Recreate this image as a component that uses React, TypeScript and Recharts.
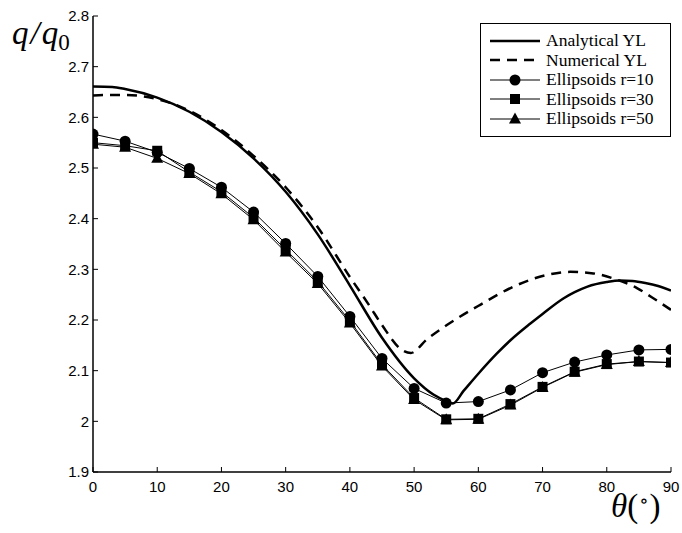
import React from 'react';
import { LineChart, Line, XAxis, YAxis, Legend } from 'recharts';

// ---------- data ----------
const ANALYTICAL_THETA = [0, 3, 5, 10, 15, 20, 25, 30, 35, 40, 45, 50, 53, 55, 56, 57.7, 60, 62.9, 65, 68.1, 70, 73.3, 75, 77, 80, 82, 84, 86, 88, 90];
const ANALYTICAL_Q = [2.661, 2.66, 2.656, 2.639, 2.611, 2.571, 2.519, 2.453, 2.369, 2.268, 2.165, 2.085, 2.053, 2.04, 2.035, 2.06, 2.094, 2.134, 2.16, 2.193, 2.212, 2.243, 2.255, 2.266, 2.275, 2.278, 2.277, 2.273, 2.267, 2.258];

const NUMERICAL_THETA = [0, 2, 5, 10, 15, 20, 25, 30, 35, 40, 43, 45, 48, 49.5, 52, 55.1, 60.3, 65.5, 70.7, 74.3, 77.9, 81, 84.7, 87, 90];
const NUMERICAL_Q = [2.643, 2.644, 2.644, 2.636, 2.613, 2.575, 2.524, 2.462, 2.383, 2.285, 2.229, 2.19, 2.142, 2.135, 2.162, 2.19, 2.23, 2.266, 2.289, 2.295, 2.292, 2.282, 2.263, 2.245, 2.22];

const MARKER_THETA = [0, 5, 10, 15, 20, 25, 30, 35, 40, 45, 50, 55, 60, 65, 70, 75, 80, 85, 90];
const R10_Q = [2.567, 2.553, 2.531, 2.499, 2.462, 2.413, 2.351, 2.286, 2.207, 2.124, 2.065, 2.036, 2.039, 2.062, 2.096, 2.117, 2.131, 2.141, 2.142];
const R30_Q = [2.55, 2.544, 2.534, 2.492, 2.453, 2.402, 2.339, 2.276, 2.198, 2.112, 2.046, 2.004, 2.005, 2.034, 2.068, 2.098, 2.113, 2.118, 2.116];
const R50_Q = [2.547, 2.541, 2.519, 2.489, 2.449, 2.398, 2.334, 2.272, 2.194, 2.109, 2.043, 2.003, 2.004, 2.032, 2.067, 2.097, 2.112, 2.118, 2.116];

const X_TICKS = [0, 10, 20, 30, 40, 50, 60, 70, 80, 90];
const Y_TICKS = [1.9, 2, 2.1, 2.2, 2.3, 2.4, 2.5, 2.6, 2.7, 2.8];

const SERIES_NAMES = ['Analytical YL', 'Numerical YL', 'Ellipsoids r=10', 'Ellipsoids r=30', 'Ellipsoids r=50'];

const zip = (xs: number[], ys: number[]) => xs.map((x, i) => ({ x, q: ys[i] }));
const analytical = zip(ANALYTICAL_THETA, ANALYTICAL_Q);
const numerical = zip(NUMERICAL_THETA, NUMERICAL_Q);
const r10 = zip(MARKER_THETA, R10_Q);
const r30 = zip(MARKER_THETA, R30_Q);
const r50 = zip(MARKER_THETA, R50_Q);

const TICK_FONT = "'Liberation Sans Narrow', 'Liberation Sans', Arial, sans-serif";
const SERIF = "'Liberation Serif', 'DejaVu Serif', serif";

const SquareDot = (props: any) => {
  const { cx, cy, index } = props;
  if (cx == null || cy == null) return <g key={`s-${index}`} />;
  return <rect key={`s-${index}`} x={cx - 5} y={cy - 5} width={10} height={10} fill="#000" />;
};

const TriangleDot = (props: any) => {
  const { cx, cy, index } = props;
  if (cx == null || cy == null) return <g key={`t-${index}`} />;
  return <polygon key={`t-${index}`} points={`${cx},${cy - 6.5} ${cx + 6},${cy + 4.5} ${cx - 6},${cy + 4.5}`} fill="#000" />;
};

const LegendIcon = ({ i }: { i: number }) => {
  const w = 50;
  const h = 20;
  const c = h / 2;
  if (i === 0) return <svg width={w} height={h}><line x1={0} y1={c} x2={w} y2={c} stroke="#000" strokeWidth={2.5} /></svg>;
  if (i === 1) return <svg width={w} height={h}><line x1={0} y1={c} x2={w} y2={c} stroke="#000" strokeWidth={2.5} strokeDasharray="10 7" /></svg>;
  return (
    <svg width={w} height={h}>
      <line x1={0} y1={c} x2={w} y2={c} stroke="#000" strokeWidth={1} />
      {i === 2 && <circle cx={w / 2} cy={c} r={5.5} fill="#000" />}
      {i === 3 && <rect x={w / 2 - 5} y={c - 5} width={10} height={10} fill="#000" />}
      {i === 4 && <polygon points={`${w / 2},${c - 6.5} ${w / 2 + 6},${c + 4.5} ${w / 2 - 6},${c + 4.5}`} fill="#000" />}
    </svg>
  );
};

const LegendContent = () => (
  <div style={{ border: '1px solid #000', background: '#fff', padding: '7px 4px 7px 9px', boxSizing: 'border-box', width: 191 }}>
    {SERIES_NAMES.map((name, i) => (
      <div key={name} style={{ display: 'flex', alignItems: 'center', height: 19.5 }}>
        <LegendIcon i={i} />
        <span style={{ marginLeft: 6, fontFamily: SERIF, fontSize: 17.5, color: '#000', lineHeight: '19px', whiteSpace: 'nowrap' }}>{name}</span>
      </div>
    ))}
  </div>
);

const fmtY = (v: number) => String(Math.round(v * 10) / 10);

export default function App() {
  return (
    <div style={{ position: 'absolute', left: 0, top: 0, width: 682, height: 533, background: '#fff' }}>
      <LineChart width={682} height={533} margin={{ top: 16, right: 11, bottom: 0, left: 0 }}>
        <XAxis
          xAxisId="b"
          type="number"
          dataKey="x"
          domain={[0, 90]}
          ticks={X_TICKS}
          allowDataOverflow
          height={61}
          tickSize={-5}
          tickMargin={14}
          tick={{ fontFamily: TICK_FONT, fontSize: 15, fill: '#000' }}
          axisLine={{ stroke: '#000', strokeWidth: 1.5 }}
          tickLine={{ stroke: '#000' }}
        />
        <XAxis
          xAxisId="t"
          orientation="top"
          type="number"
          dataKey="x"
          domain={[0, 90]}
          ticks={X_TICKS}
          allowDataOverflow
          height={0}
          tickSize={-5}
          tickFormatter={() => ''}
          axisLine={{ stroke: '#000', strokeWidth: 1.5 }}
          tickLine={{ stroke: '#000' }}
        />
        <YAxis
          yAxisId="l"
          type="number"
          domain={[1.9, 2.8]}
          ticks={Y_TICKS}
          allowDataOverflow
          width={93}
          tickSize={-5}
          tickMargin={9}
          tickFormatter={fmtY}
          tick={{ fontFamily: TICK_FONT, fontSize: 15, fill: '#000' }}
          axisLine={{ stroke: '#000', strokeWidth: 1.5 }}
          tickLine={{ stroke: '#000' }}
        />
        <YAxis
          yAxisId="r"
          orientation="right"
          type="number"
          domain={[1.9, 2.8]}
          ticks={Y_TICKS}
          allowDataOverflow
          width={0}
          tickSize={-5}
          tickFormatter={() => ''}
          axisLine={{ stroke: '#000', strokeWidth: 1.5 }}
          tickLine={{ stroke: '#000' }}
        />
        <Legend
          layout="vertical"
          align="center"
          verticalAlign="middle"
          content={LegendContent}
          wrapperStyle={{ left: 480, top: 23, width: 191, height: 'auto' }}
        />
        <Line xAxisId="b" yAxisId="l" data={r10} dataKey="q" name={SERIES_NAMES[2]} type="linear" stroke="#000" strokeWidth={1} dot={{ r: 5.5, fill: '#000', stroke: 'none' }} isAnimationActive={false} />
        <Line xAxisId="b" yAxisId="l" data={r30} dataKey="q" name={SERIES_NAMES[3]} type="linear" stroke="#000" strokeWidth={1} dot={SquareDot} isAnimationActive={false} />
        <Line xAxisId="b" yAxisId="l" data={r50} dataKey="q" name={SERIES_NAMES[4]} type="linear" stroke="#000" strokeWidth={1} dot={TriangleDot} isAnimationActive={false} />
        <Line xAxisId="b" yAxisId="l" data={numerical} dataKey="q" name={SERIES_NAMES[1]} type="monotone" stroke="#000" strokeWidth={2.5} strokeDasharray="10 7" dot={false} isAnimationActive={false} />
        <Line xAxisId="b" yAxisId="l" data={analytical} dataKey="q" name={SERIES_NAMES[0]} type="monotone" stroke="#000" strokeWidth={2.5} dot={false} isAnimationActive={false} />
      </LineChart>
      <div style={{ position: 'absolute', left: 12, top: 17, fontFamily: SERIF, fontStyle: 'italic', fontSize: 33, color: '#000', whiteSpace: 'nowrap', lineHeight: 1 }}>
        q<span style={{ margin: '0 2px' }}>/</span>q<span style={{ fontStyle: 'normal', fontSize: 23, position: 'relative', top: 6 }}>0</span>
      </div>
      <div style={{ position: 'absolute', left: 611, top: 490, fontFamily: SERIF, fontSize: 33, color: '#000', whiteSpace: 'nowrap', lineHeight: 1 }}>
        <span style={{ fontStyle: 'italic' }}>θ</span>(<span style={{ fontSize: 19, position: 'relative', top: -10, margin: '0 1px' }}>∘</span>)
      </div>
    </div>
  );
}
